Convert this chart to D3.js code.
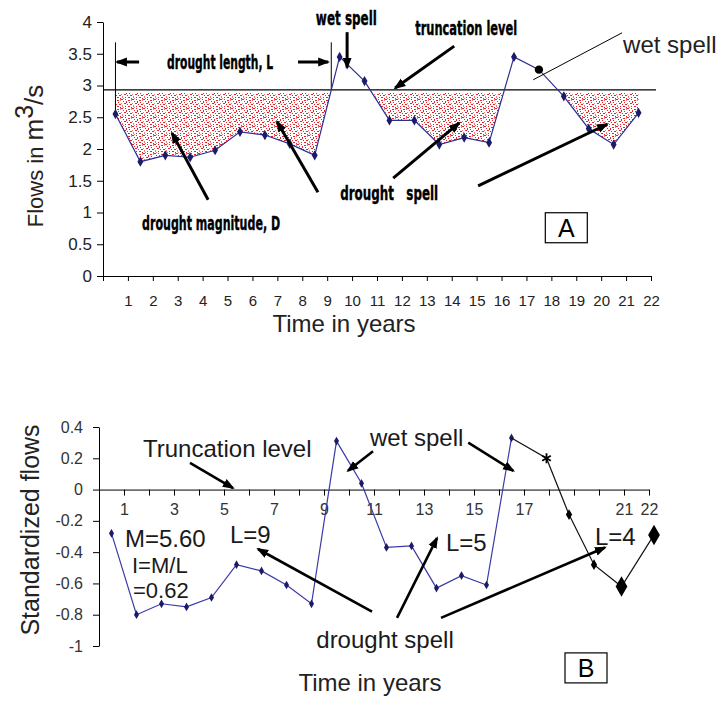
<!DOCTYPE html>
<html>
<head>
<meta charset="utf-8">
<script src="https://cdn.jsdelivr.net/npm/d3@7"></script>
<style>
    body { margin: 0; background: #fff; }
    svg { display: block; font-family: "Liberation Sans", Arial, sans-serif; }
</style>
</head>
<body>
<div class="container"></div>
<script>
// chart A : flows in m3/s, one value per year (plotted mid-year)
const years = d3.range(1, 23)
const flows = [2.55, 1.80, 1.90, 1.87, 1.98, 2.27, 2.22, 2.08, 1.90, 3.45, 3.07,
    2.45, 2.45, 2.07, 2.18, 2.10, 3.45, 3.25, 2.83, 2.32, 2.07, 2.57]
const truncLevel = 2.93
const flowTicks = [0, 0.5, 1, 1.5, 2, 2.5, 3, 3.5, 4]

// chart B : standardized flows
const stdYears = d3.range(1, 18)
const stdFlows = [-0.28, -0.80, -0.73, -0.75, -0.69, -0.48, -0.52, -0.61, -0.73,
    0.31, 0.04, -0.37, -0.36, -0.63, -0.55, -0.61, 0.33]
const tailYears = [16.5, 17.9, 18.8, 19.8, 20.9, 22.2]
const tailFlows = [0.33, 0.20, -0.16, -0.48, -0.62, -0.29]
const tailMarks = ["none", "star", "diamond", "diamond", "big", "big"]
const stdTicks = [0.4, 0.2, 0, -0.2, -0.4, -0.6, -0.8, -1]
const stdYearLabels = [1, 3, 5, 7, 9, 11, 13, 15, 17, 21, 22]

const width = 723
const height = 704

let svg = d3.select(".container")
    .append("svg")
    .attr("width", width)
    .attr("height", height)

let defs = svg.append("defs")

// stipple texture for drought area
let pat = defs.append("pattern")
    .attr("id", "stipple")
    .attr("patternUnits", "userSpaceOnUse")
    .attr("width", 11)
    .attr("height", 9)
const dots = [[0, 0, 2, 1], [4, 0, 1, 1], [7, 1, 2, 1], [10, 0, 1, 2], [2, 2, 1, 1], [5, 2, 1, 2],
    [8, 3, 1, 1], [0, 4, 1, 1], [3, 4, 2, 1], [6, 5, 1, 1], [9, 5, 2, 1], [1, 6, 1, 2],
    [4, 7, 1, 1], [7, 7, 2, 1], [10, 8, 1, 1], [2, 8, 1, 1]]
pat.selectAll("rect").data(dots).join("rect")
    .attr("x", d => d[0]).attr("y", d => d[1])
    .attr("width", d => d[2]).attr("height", d => d[3])
    .attr("fill", (d, i) => i % 4 === 3 ? "#f27878" : "#e3232a")

defs.append("marker")
    .attr("id", "head")
    .attr("markerUnits", "userSpaceOnUse")
    .attr("viewBox", "0 -5 12 10")
    .attr("refX", 10)
    .attr("markerWidth", 12)
    .attr("markerHeight", 10)
    .attr("orient", "auto")
    .append("path")
    .attr("d", "M0,-4.5L12,0L0,4.5Z")
    .attr("fill", "#000")

let drawArrows = (g, list, xs, ys, w) => {
    g.selectAll(null).data(list).join("line")
        .attr("x1", d => xs(d[0][0])).attr("y1", d => ys(d[0][1]))
        .attr("x2", d => xs(d[1][0])).attr("y2", d => ys(d[1][1]))
        .attr("stroke", "#000")
        .attr("stroke-width", w)
        .attr("marker-end", "url(#head)")
}

// ---------------- chart A ----------------
let xA = d3.scaleLinear().domain([0, 22]).range([103, 651])
let yA = d3.scaleLinear().domain([0, 4]).range([276, 22])
let ptsA = years.map((y, i) => ({ t: y - 0.5, v: flows[i] }))

defs.append("clipPath").attr("id", "belowTrunc")
    .append("rect")
    .attr("x", xA(0)).attr("width", xA(22) - xA(0))
    .attr("y", yA(truncLevel) + 3).attr("height", yA(0) - yA(truncLevel) - 3)

let gA = svg.append("g")

gA.append("path")
    .datum(ptsA)
    .attr("clip-path", "url(#belowTrunc)")
    .attr("fill", "url(#stipple)")
    .attr("d", d3.area().x(d => xA(d.t)).y0(yA(truncLevel)).y1(d => yA(d.v)))

gA.append("g")
    .attr("transform", `translate(0, ${yA(0)})`)
    .call(d3.axisBottom(xA).tickValues(d3.range(0, 23)).tickSize(5).tickSizeOuter(0).tickPadding(14)
        .tickFormat(d => d === 0 ? "" : d))
    .call(g => g.selectAll("text").attr("font-size", 15).attr("fill", "#222").attr("font-family", "Liberation Sans, Arial"))

gA.append("g")
    .attr("transform", `translate(${xA(0)}, 0)`)
    .call(d3.axisLeft(yA).tickValues(flowTicks).tickSize(6).tickSizeOuter(0).tickPadding(5)
        .tickFormat(d => String(d)))
    .call(g => g.selectAll("text").attr("font-size", 17).attr("fill", "#222").attr("font-family", "Liberation Sans, Arial"))

gA.append("line")
    .attr("x1", xA(0)).attr("x2", xA(22.2))
    .attr("y1", yA(truncLevel)).attr("y2", yA(truncLevel))
    .attr("stroke", "#000").attr("stroke-width", 1.2)

// drought length markers: from first point and from first up-crossing
let k = flows.findIndex((v, i) => i > 0 && flows[i - 1] < truncLevel && v >= truncLevel)
let cross = ptsA[k - 1].t + (truncLevel - flows[k - 1]) / (flows[k] - flows[k - 1])
gA.append("line")
    .attr("x1", xA(ptsA[0].t)).attr("x2", xA(ptsA[0].t))
    .attr("y1", yA(3.68)).attr("y2", yA(ptsA[0].v))
    .attr("stroke", "#000")
gA.append("line")
    .attr("x1", xA(cross)).attr("x2", xA(cross))
    .attr("y1", yA(3.68)).attr("y2", yA(truncLevel))
    .attr("stroke", "#000")

gA.append("path")
    .datum(ptsA)
    .attr("fill", "none")
    .attr("stroke", "#2e2e92")
    .attr("stroke-width", 1.2)
    .attr("d", d3.line().x(d => xA(d.t)).y(d => yA(d.v)))

gA.selectAll(".mk").data(ptsA).join("path")
    .attr("class", "mk")
    .attr("transform", d => `translate(${xA(d.t)}, ${yA(d.v)})`)
    .attr("d", (d, i) => i === 17 ? d3.symbol(d3.symbolCircle, 55)() : d3.symbol(d3.symbolDiamond, 30)())
    .attr("fill", (d, i) => i === 17 ? "#000" : "#1b1b6a")

drawArrows(gA, [
    [[9.8, 3.84], [9.8, 3.28]],
    [[14.1, 3.62], [11.73, 2.96]],
    [[4.22, 1.2], [2.77, 2.25]],
    [[8.63, 1.32], [6.99, 2.43]],
    [[11.65, 1.54], [14.3, 2.41]],
    [[15.06, 1.42], [20.24, 2.39]],
    [[1.45, 3.37], [0.56, 3.37]],
    [[7.83, 3.37], [9.04, 3.37]]
], xA, yA, 3)

gA.append("line")
    .attr("x1", xA(20.84)).attr("y1", yA(3.83))
    .attr("x2", xA(17.27)).attr("y2", yA(3.09))
    .attr("stroke", "#000").attr("stroke-width", 1)

const boldNotesA = [
    { text: "wet spell", t: 9.77, v: 3.95, len: 61 },
    { text: "truncation level", t: 14.58, v: 3.8, len: 102 },
    { text: "drought length, L", t: 4.7, v: 3.26, len: 106 },
    { text: "drought magnitude, D", t: 4.34, v: 0.72, len: 138 },
    { text: "drought   spell", t: 11.49, v: 1.2, len: 98 }
]
gA.selectAll(".note").data(boldNotesA).join("text")
    .attr("class", "note")
    .attr("x", d => xA(d.t)).attr("y", d => yA(d.v))
    .attr("text-anchor", "middle")
    .attr("font-family", "Liberation Sans Narrow, DejaVu Sans Condensed, sans-serif")
    .attr("font-weight", "bold")
    .attr("font-size", 20)
    .attr("stroke", "#000")
    .attr("stroke-width", 0.4)
    .attr("textLength", d => d.len)
    .attr("lengthAdjust", "spacingAndGlyphs")
    .style("white-space", "pre")
    .text(d => d.text)

gA.append("text")
    .attr("x", xA(20.88)).attr("y", yA(3.51))
    .attr("font-size", 24).attr("fill", "#222")
    .text("wet spell")

let boxA = gA.append("g").attr("transform", `translate(${xA(18.6)}, ${yA(0.76)})`)
boxA.append("rect").attr("x", -21).attr("y", -15).attr("width", 42).attr("height", 30)
    .attr("fill", "none").attr("stroke", "#000").attr("stroke-width", 1.2)
boxA.append("text").attr("text-anchor", "middle").attr("y", 9).attr("font-size", 25).text("A")

let titleA = svg.append("text")
    .attr("transform", "translate(43, 156) rotate(-90)")
    .attr("text-anchor", "middle")
    .attr("fill", "#2a2118")
titleA.append("tspan").attr("font-size", 22).text("Flows in ")
titleA.append("tspan").attr("font-size", 26).text("m")
titleA.append("tspan").attr("font-size", 25).attr("dy", -10).text("3")
titleA.append("tspan").attr("font-size", 26).attr("dy", 10).text("/s")

svg.append("text")
    .attr("x", 344).attr("y", 332)
    .attr("text-anchor", "middle")
    .attr("font-size", 24).attr("fill", "#222")
    .text("Time in years")

// ---------------- chart B ----------------
let xB = d3.scaleLinear().domain([0, 22]).range([99, 649])
let yB = d3.scaleLinear().domain([-1, 0.4]).range([646, 427])
let ptsB = stdYears.map((y, i) => ({ t: y - 0.5, v: stdFlows[i] }))
let tail = tailYears.map((t, i) => ({ t: t, v: tailFlows[i], m: tailMarks[i] }))

let gB = svg.append("g")

gB.append("g")
    .attr("transform", `translate(0, ${yB(0)})`)
    .call(d3.axisBottom(xB).tickValues(d3.range(0, 23)).tickSize(6).tickSizeOuter(0).tickPadding(8)
        .tickFormat(d => stdYearLabels.includes(d) ? d : ""))
    .call(g => g.selectAll("text").attr("font-size", 16).attr("fill", "#333").attr("font-family", "Liberation Sans, Arial"))

gB.append("g")
    .attr("transform", `translate(${xB(0)}, 0)`)
    .call(d3.axisLeft(yB).tickValues(stdTicks).tickSize(6).tickSizeOuter(0).tickPadding(10)
        .tickFormat(d => d === 0 || d === -1 ? String(d) : d.toFixed(1)))
    .call(g => g.selectAll("text").attr("font-size", 16).attr("fill", "#333").attr("font-family", "Liberation Sans, Arial"))

gB.append("path")
    .datum(ptsB)
    .attr("fill", "none")
    .attr("stroke", "#3a3aa6")
    .attr("stroke-width", 1.2)
    .attr("d", d3.line().x(d => xB(d.t)).y(d => yB(d.v)))

gB.selectAll(".mkb").data(ptsB).join("path")
    .attr("class", "mkb")
    .attr("transform", d => `translate(${xB(d.t)}, ${yB(d.v)})`)
    .attr("d", d3.symbol(d3.symbolDiamond, 22)())
    .attr("fill", "#1b1b6a")

gB.append("path")
    .datum(tail)
    .attr("fill", "none")
    .attr("stroke", "#111")
    .attr("stroke-width", 1.2)
    .attr("d", d3.line().x(d => xB(d.t)).y(d => yB(d.v)))

gB.selectAll(".mkt").data(tail.filter(d => d.m !== "none")).join("path")
    .attr("class", "mkt")
    .attr("transform", d => `translate(${xB(d.t)}, ${yB(d.v)})`)
    .attr("d", d => d.m === "star" ? d3.symbol(d3.symbolAsterisk, 70)()
        : d3.symbol(d3.symbolDiamond, d.m === "big" ? 120 : 34)())
    .attr("fill", "#000")
    .attr("stroke", d => d.m === "star" ? "#000" : "none")
    .attr("stroke-width", 1.8)

drawArrows(gB, [
    [[3.64, 0.17], [5.36, 0.01]],
    [[10.96, 0.245], [9.96, 0.12]],
    [[14.77, 0.30], [16.57, 0.12]],
    [[10.92, -0.78], [6.36, -0.38]],
    [[11.92, -0.82], [13.52, -0.31]],
    [[13.68, -0.82], [20.24, -0.37]]
], xB, yB, 2.6)

const notesB = [
    { text: "Truncation level", t: 1.76, v: 0.21 },
    { text: "wet spell", t: 10.84, v: 0.28 },
    { text: "M=5.60", t: 1.04, v: -0.37 },
    { text: "I=M/L", t: 1.32, v: -0.535 },
    { text: "=0.62", t: 1.36, v: -0.69 },
    { text: "L=9", t: 5.24, v: -0.34 },
    { text: "L=5", t: 13.88, v: -0.395 },
    { text: "L=4", t: 19.84, v: -0.355 }
]
gB.selectAll(".noteb").data(notesB).join("text")
    .attr("class", "noteb")
    .attr("x", d => xB(d.t)).attr("y", d => yB(d.v))
    .attr("font-size", d => d.text.startsWith("I=") || d.text.startsWith("=") ? 22 : 24)
    .attr("fill", "#1a1a1a")
    .text(d => d.text)

gB.append("text")
    .attr("x", xB(11.44)).attr("y", yB(-1.01))
    .attr("text-anchor", "middle")
    .attr("font-size", 24).attr("fill", "#1a1a1a")
    .text("drought spell")

let boxB = gB.append("g").attr("transform", `translate(${xB(19.48)}, ${yB(-1.14)})`)
boxB.append("rect").attr("x", -21).attr("y", -15).attr("width", 42).attr("height", 30)
    .attr("fill", "none").attr("stroke", "#000").attr("stroke-width", 1.2)
boxB.append("text").attr("text-anchor", "middle").attr("y", 9).attr("font-size", 25).text("B")

svg.append("text")
    .attr("transform", "translate(39, 530) rotate(-90)")
    .attr("text-anchor", "middle")
    .attr("font-size", 25).attr("fill", "#222")
    .text("Standardized flows")

svg.append("text")
    .attr("x", 370).attr("y", 691)
    .attr("text-anchor", "middle")
    .attr("font-size", 24).attr("fill", "#222")
    .text("Time in years")
</script>
</body>
</html>
